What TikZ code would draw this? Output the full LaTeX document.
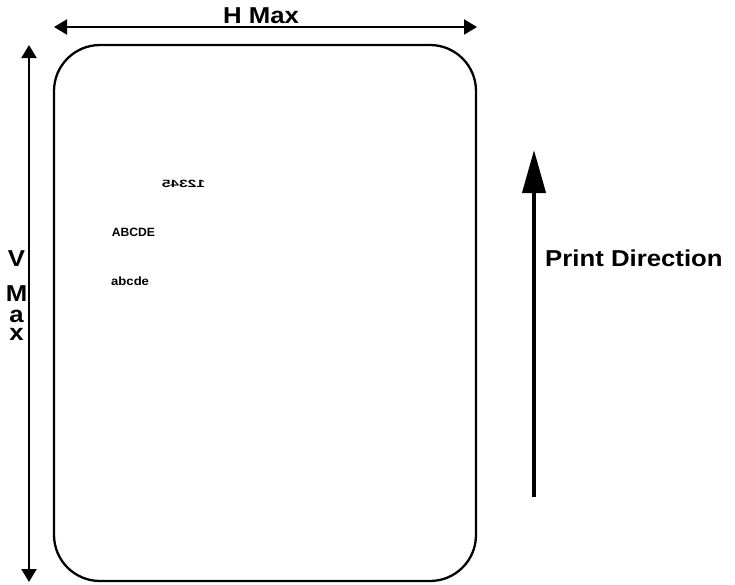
\documentclass[tikz,border=0pt]{standalone}
\usepackage{fontspec}
\setmainfont{Liberation Sans}
\usetikzlibrary{arrows.meta}
\begin{document}
\begin{tikzpicture}[x=1pt,y=-1pt,
  bigtxt/.style={font=\bfseries\fontsize{23}{27}\selectfont, inner sep=0pt, xscale=1.12},
  smalltxt/.style={font=\bfseries\fontsize{12}{14}\selectfont, inner sep=0pt},
  dimarrow/.style={line width=2pt, {Triangle[length=13pt,width=15pt]}-{Triangle[length=13pt,width=15pt]}},
  printarrow/.style={line width=4pt, -{Triangle[length=43pt,width=23pt]}},
  card/.style={draw, line width=2.3pt, rounded corners=46pt}]
\useasboundingbox (0,0) rectangle (735,584);
% card outline
\draw[card] (54,45) rectangle (476,581);
% dimension arrows
\coordinate (hl) at (54,27);
\coordinate (hr) at (477,27);
\draw[dimarrow] (hl) -- (hr);
\coordinate (vt) at (29,45);
\coordinate (vb) at (29,582);
\draw[dimarrow] (vt) -- (vb);
% print direction arrow
\coordinate (pb) at (534,497);
\coordinate (pt) at (534,150);
\draw[printarrow] (pb) -- (pt);
% labels
\node[bigtxt, anchor=base] (hmax) at (261,23.5) {H Max};
\node[bigtxt, anchor=base] (vV) at (16.5,266) {V};
\node[bigtxt, anchor=base] (vM) at (16.5,301) {M};
\node[bigtxt, anchor=base] (va) at (16.5,322) {a};
\node[bigtxt, anchor=base] (vx) at (16.5,340) {x};
\node[bigtxt, anchor=base west] (pd) at (545,266) {Print Direction};
% card texts
\node[smalltxt, font=\bfseries\fontsize{10.5}{12}\selectfont, anchor=base, xscale=-1.48] (num) at (183.5,187.3) {12345};
\node[smalltxt, anchor=base west, xscale=1.01] (up) at (111.7,236) {ABCDE};
\node[smalltxt, anchor=base west, xscale=1.09] (low) at (111,285) {abcde};
\end{tikzpicture}
\end{document}
